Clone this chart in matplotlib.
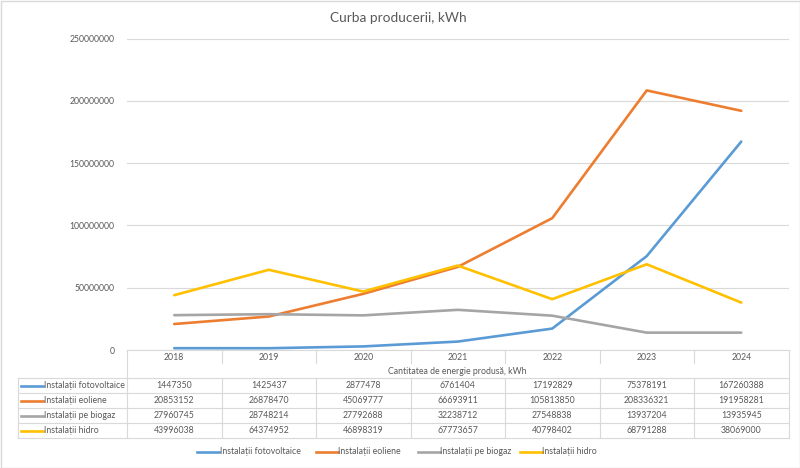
import matplotlib
matplotlib.use("Agg")
import matplotlib.pyplot as plt
from matplotlib.lines import Line2D
from matplotlib.patches import Rectangle

years = ["2018", "2019", "2020", "2021", "2022", "2023", "2024"]
series_names = ["Instalații fotovoltaice", "Instalații eoliene",
                "Instalații pe biogaz", "Instalații hidro"]
fotovoltaice = [1447350, 1425437, 2877478, 6761404, 17192829, 75378191, 167260388]
eoliene = [20853152, 26878470, 45069777, 66693911, 105813850, 208336321, 191958281]
biogaz = [27960745, 28748214, 27792688, 32238712, 27548838, 13937204, 13935945]
hidro = [43996038, 64374952, 46898319, 67773657, 40798402, 68791288, 38069000]
yticks = [0, 50000000, 100000000, 150000000, 200000000, 250000000]
title = "Curba producerii, kWh"
axis_title = "Cantitatea de energie produsă, kWh"

series = [fotovoltaice, eoliene, biogaz, hidro]
colors = ["#5B9BD5", "#ED7D31", "#A5A5A5", "#FFC000"]

FONT = ["Lato", "DejaVu Sans"]
plt.rcParams["font.family"] = FONT
TXT = "#595959"
GRID = "#D9D9D9"

W, H = 800, 468
fig = plt.figure(figsize=(8, 4.68), dpi=100)

# pixel geometry
x0, x1 = 127, 788.5
y_top, y_zero = 38.5, 350
ax = fig.add_axes([x0 / W, 1 - y_zero / H, (x1 - x0) / W, (y_zero - y_top) / H])
n = len(years)
ax.set_xlim(-0.5, n - 0.5)
ax.set_ylim(0, 250000000)
for s, c in zip(series, colors):
    ax.plot(range(n), s, color=c, lw=1.9, solid_capstyle="round", zorder=3)
ax.set_yticks(yticks)
ax.set_yticklabels([str(v) for v in yticks])
ax.tick_params(axis="y", length=0, pad=9, labelsize=6.2, labelcolor=TXT)
ax.set_xticks([])
for sp in ax.spines.values():
    sp.set_visible(False)
ax.grid(axis="y", color=GRID, lw=0.8)
ax.set_axisbelow(True)

# overlay in pixel coordinates for table / legend
ov = fig.add_axes([0, 0, 1, 1], zorder=5)
ov.set_xlim(0, W)
ov.set_ylim(H, 0)
ov.axis("off")
ov.patch.set_alpha(0)

ov.add_patch(Rectangle((0.5, 0.5), W - 1, H - 1, fill=False, ec=GRID, lw=1.0))
ov.text(W / 2 - 2, 18, title, ha="center", va="center", fontsize=9.8, color=TXT)

colw = (x1 - x0) / n
cx = [x0 + (i + 0.5) * colw for i in range(n)]
row_y = [378, 393, 408, 423, 438]
tl = dict(color=GRID, lw=0.8)

# horizontal lines
ov.add_line(Line2D([x0, x1], [y_zero, y_zero], **tl))
for y in row_y:
    ov.add_line(Line2D([18, x1], [y, y], **tl))
# vertical lines
ov.add_line(Line2D([18, 18], [row_y[0], row_y[-1]], **tl))
ov.add_line(Line2D([x0, x0], [y_zero, row_y[-1]], **tl))
ov.add_line(Line2D([x1, x1], [y_zero, row_y[-1]], **tl))
for i in range(1, n):
    xv = x0 + i * colw
    ov.add_line(Line2D([xv, xv], [y_zero, 363], **tl))
    ov.add_line(Line2D([xv, xv], [row_y[0], row_y[-1]], **tl))

fs = 6.3
for i, yr in enumerate(years):
    ov.text(cx[i], 357, yr, ha="center", va="center", fontsize=fs, color=TXT)
ov.text((x0 + x1) / 2, 371.5, axis_title, ha="center", va="center", fontsize=fs, color=TXT)

for r, (name, s, c) in enumerate(zip(series_names, series, colors)):
    yc = (row_y[r] + row_y[r + 1]) / 2
    ov.add_line(Line2D([21, 43], [yc, yc], color=c, lw=1.9))
    ov.text(43.5, yc, name, ha="left", va="center", fontsize=fs, color=TXT)
    for i, v in enumerate(s):
        ov.text(cx[i], yc, str(v), ha="center", va="center", fontsize=fs, color=TXT)

# legend
leg_x = [197, 316, 418, 520]
ly = 452
for lx, name, c in zip(leg_x, series_names, colors):
    ov.add_line(Line2D([lx, lx + 22], [ly, ly], color=c, lw=1.9))
    ov.text(lx + 22.5, ly, name, ha="left", va="center", fontsize=fs, color=TXT)

fig.savefig("out.png", dpi=100)
